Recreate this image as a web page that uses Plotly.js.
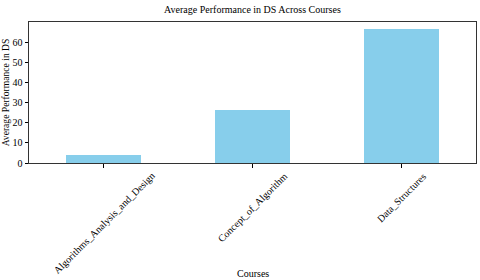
<!DOCTYPE html>
<html><head><meta charset="utf-8">
<script src="https://cdn.plot.ly/plotly-3.0.1.min.js"></script>
<style>html,body{margin:0;padding:0;background:#fff}#c{width:480px;height:280px}</style>
</head><body><div id="c"></div>
<script>
const courses = ["Algorithms_Analysis_and_Design", "Concept_of_Algorithm", "Data_Structures"];
const avgPerformance = [3.8, 26.3, 66.7];
const yTicks = [0, 10, 20, 30, 40, 50, 60];

const fam = "Liberation Serif, Times New Roman, serif";
const f = s => ({family: fam, size: s, color: "#000"});

const tickAnnotations = courses.map(c => ({
  x: c, xref: "x", y: 0, yref: "paper", text: c, showarrow: false,
  textangle: -45, xanchor: "center", yanchor: "top", yshift: -6,
  font: f(10), borderpad: 0
}));

Plotly.newPlot("c", [{
  type: "bar", x: courses, y: avgPerformance, width: 0.5,
  marker: {color: "#87CEEB", line: {width: 0}}
}], {
  width: 480, height: 280,
  margin: {l: 29, r: 4, t: 22, b: 117},
  paper_bgcolor: "#fff", plot_bgcolor: "#fff",
  font: f(10),
  title: {text: "Average Performance in DS Across Courses", font: f(10),
          x: 0.526, xanchor: "center", y: 0.978, yanchor: "top"},
  xaxis: {range: [-0.5, 2.5], showticklabels: false, ticks: "outside", ticklen: 3.5, tickcolor: "#000",
          showline: true, mirror: true, linecolor: "#333", linewidth: 1, showgrid: false},
  yaxis: {range: [0, 70], tickvals: yTicks, ticks: "outside", ticklen: 3.5, tickcolor: "#000",
          showline: true, mirror: true, linecolor: "#333", linewidth: 1, showgrid: false, zeroline: false,
          tickfont: f(10),
          title: {text: "Average Performance in DS", font: f(9.6), standoff: 4}},
  annotations: tickAnnotations.concat([{
    text: "Courses", x: 0.5, xref: "paper", y: 0, yref: "paper", yanchor: "middle",
    yshift: -110, showarrow: false, font: f(10)
  }]),
  showlegend: false, bargap: 0
}, {staticPlot: true, displayModeBar: false});
</script></body></html>
